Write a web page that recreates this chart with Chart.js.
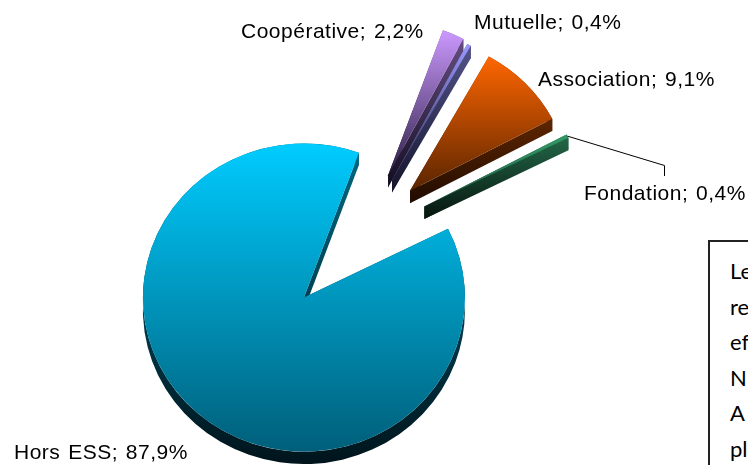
<!DOCTYPE html>
<html lang="fr">
<head>
<meta charset="utf-8">
<title>Répartition</title>
<script src="https://cdn.jsdelivr.net/npm/chart.js@4"></script>
<style>
  html, body { margin: 0; padding: 0; background: #fff; width: 748px; height: 465px; overflow: hidden; }
  #wrap { position: relative; width: 748px; height: 465px; overflow: hidden; }
  #note {
    position: absolute; left: 708px; top: 240px; width: 200px; height: 300px;
    box-sizing: border-box; border: 2px solid #222; background: #fff;
    padding: 11px 0 0 20px; font: 22px/35.6px Lato, sans-serif; color: #000;
  }
</style>
</head>
<body>
<div id="wrap">
  <canvas id="pie" width="748" height="465"></canvas>
  <div id="note">Le<br>re<br>ef<br>N<br>A<br>pl</div>
</div>
<script>
const categories = ['Hors ESS', 'Coopérative', 'Mutuelle', 'Association', 'Fondation'];
const shares = [87.9, 2.2, 0.4, 9.1, 0.4];

// look of each slice, same order as categories
const explode = [82, 73, 70, 72, 74];
const topColors = [['#00ccff', '#005f7a'], ['#cc99ff', '#2c2044'], ['#9999ff', '#2a2a50'], ['#ff6600', '#5a2400'], ['#339966', '#1f5c40']];
const wallColors = [['#006a85', '#00141c'], ['#6a5088', '#120c20'], ['#54548c', '#14142a'], ['#8c3a00', '#200b00'], ['#246a4a', '#06140e']];
const labelPos = [[14, 453], [241, 32], [474, 23], [538, 80], [584, 194]];

const radius = 161;
const depth = 13;
const squash = 0.957;   // the pie is tilted a little
const centerY = 239;

const labelText = i => categories[i] + '; ' + shares[i].toFixed(1).replace('.', ',') + '%';

const pie3d = {
  id: 'pie3d',
  afterDatasetsUpdate(chart) {
    const c = chart.ctx;
    chart.getDatasetMeta(0).data.forEach((arc, i) => {
      const mid = (arc.startAngle + arc.endAngle) / 2;
      arc.x += Math.cos(mid) * explode[i];
      arc.y += Math.sin(mid) * explode[i];
      // vertical extent of the slice, for its gradient
      let y0 = arc.y, y1 = arc.y;
      for (let k = 0; k <= 60; k++) {
        const y = arc.y + Math.sin(arc.startAngle + (arc.endAngle - arc.startAngle) * k / 60) * arc.outerRadius;
        y0 = Math.min(y0, y); y1 = Math.max(y1, y);
      }
      const g = c.createLinearGradient(0, y0, 0, y1);
      g.addColorStop(0, topColors[i][0]);
      g.addColorStop(1, topColors[i][1]);
      arc.options = Object.assign({}, arc.options, { backgroundColor: g });
      arc.$y0 = y0; arc.$y1 = y1;
    });
  },
  beforeDatasetsDraw(chart) {
    const c = chart.ctx;
    c.save();
    c.translate(0, centerY);
    c.scale(1, squash);
    c.translate(0, -centerY);
    // side walls first, the top faces come over them
    chart.getDatasetMeta(0).data.forEach((arc, i) => {
      const g = c.createLinearGradient(0, arc.$y0, 0, arc.$y1 + depth);
      g.addColorStop(0, wallColors[i][0]);
      g.addColorStop(1, wallColors[i][1]);
      c.fillStyle = g;
      const r = arc.outerRadius;
      [arc.startAngle, arc.endAngle].forEach(a => {
        c.beginPath();
        c.moveTo(arc.x, arc.y);
        c.lineTo(arc.x + Math.cos(a) * r, arc.y + Math.sin(a) * r);
        c.lineTo(arc.x + Math.cos(a) * r, arc.y + Math.sin(a) * r + depth);
        c.lineTo(arc.x, arc.y + depth);
        c.closePath();
        c.fill();
      });
      c.beginPath();
      c.arc(arc.x, arc.y, r, arc.startAngle, arc.endAngle);
      c.arc(arc.x, arc.y + depth, r, arc.endAngle, arc.startAngle, true);
      c.closePath();
      c.fill();
    });
  },
  afterDatasetsDraw(chart) {
    const c = chart.ctx;
    c.restore();
    // leader line of Fondation
    const arc = chart.getDatasetMeta(0).data[4];
    const mid = (arc.startAngle + arc.endAngle) / 2;
    const ax = arc.x + Math.cos(mid) * arc.outerRadius;
    const ay = centerY + (arc.y + Math.sin(mid) * arc.outerRadius - centerY) * squash;
    c.strokeStyle = '#000';
    c.lineWidth = 1;
    c.beginPath();
    c.moveTo(ax, ay);
    c.lineTo(664.5, 165.5);
    c.lineTo(664.5, 176);
    c.stroke();
    // labels
    c.fillStyle = '#000';
    c.font = '21px "Liberation Sans", Arial, sans-serif';
    c.letterSpacing = '0.5px';
    c.wordSpacing = '1.5px';
    c.textBaseline = 'middle';
    c.textAlign = 'left';
    categories.forEach((_, i) => c.fillText(labelText(i), labelPos[i][0], labelPos[i][1]));
  }
};

new Chart(document.getElementById('pie'), {
  type: 'pie',
  data: {
    labels: categories,
    datasets: [{ data: shares, borderWidth: 0, clip: false }]
  },
  options: {
    responsive: false,
    animation: false,
    rotation: 63.5,
    radius: radius,
    layout: { padding: { left: 0, right: 31, top: 13, bottom: 0 } },
    plugins: { legend: { display: false }, tooltip: { enabled: false } }
  },
  plugins: [pie3d]
});
</script>
</body>
</html>
